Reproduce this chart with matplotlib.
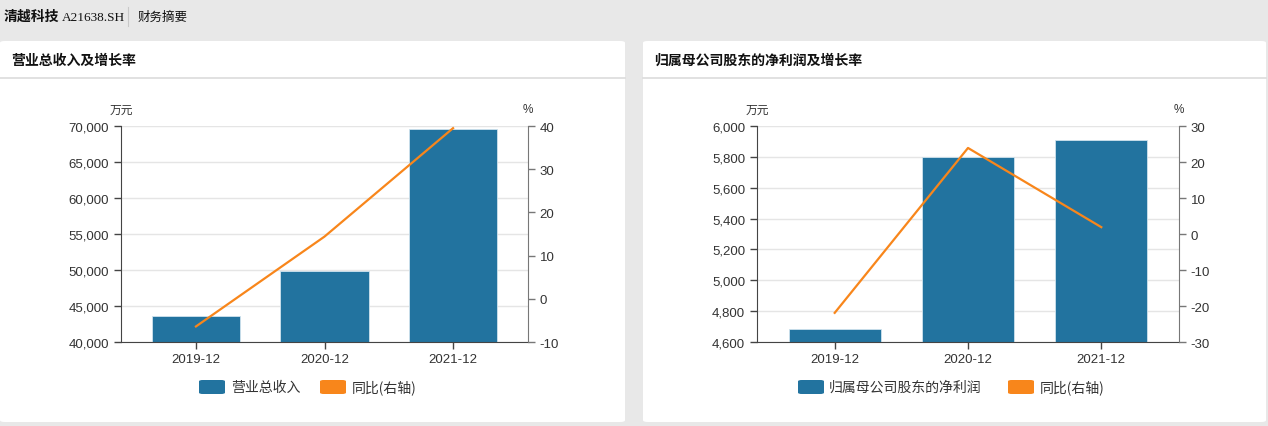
import matplotlib
matplotlib.use("Agg")
import matplotlib.pyplot as plt
from matplotlib.patches import FancyBboxPatch
from matplotlib.ticker import FuncFormatter, FixedLocator
from matplotlib.lines import Line2D

plt.rcParams['font.family'] = ['Liberation Sans', 'Noto Sans CJK SC', 'DejaVu Sans']

# ---------------- data ----------------
periods = ["2019-12", "2020-12", "2021-12"]
revenue = [43600, 49860, 69540]          # 万元
revenue_yoy = [-6.4, 14.4, 39.5]         # %
net_profit = [4682, 5801, 5911]          # 万元
net_profit_yoy = [-21.9, 23.9, 1.9]      # %

left_title = "营业总收入及增长率"
right_title = "归属母公司股东的净利润及增长率"
left_bar_name = "营业总收入"
right_bar_name = "归属母公司股东的净利润"
line_name = "同比(右轴)"
header_name = "清越科技"
header_code = "A21638.SH"
header_section = "财务摘要"

left_yticks = [40000, 45000, 50000, 55000, 60000, 65000, 70000]
left_y2ticks = [-10, 0, 10, 20, 30, 40]
right_yticks = [4600, 4800, 5000, 5200, 5400, 5600, 5800, 6000]
right_y2ticks = [-30, -20, -10, 0, 10, 20, 30]

# ---------------- style ----------------
W, H = 1268, 427
BLUE = '#22739f'
ORANGE = '#f8861b'
TXT = '#333333'
GRID = '#e5e5e5'
BG = '#e8e8e8'
CJK = ['Noto Sans CJK SC', 'DejaVu Sans']
NUM = ['Liberation Sans', 'Noto Sans CJK SC']

fig = plt.figure(figsize=(W / 100, H / 100), dpi=100)
fig.patch.set_facecolor(BG)


def fx(px):
    return px / W


def fy(py):
    return 1 - py / H


# panels
for x0, x1 in [(0, 625), (643, 1266)]:
    p = FancyBboxPatch((fx(x0), fy(423)), fx(x1 - x0), (423 - 42) / H,
                       boxstyle="round,pad=0,rounding_size=0.004",
                       transform=fig.transFigure, facecolor='white',
                       edgecolor='none', zorder=-10)
    fig.patches.append(p)
    fig.add_artist(Line2D([fx(x0), fx(x1)], [fy(79), fy(79)],
                          transform=fig.transFigure, color='#dcdcdc', lw=1.2,
                          zorder=-5))

# header
fig.text(fx(4), fy(17), header_name, fontsize=10, fontweight='bold',
         family=CJK, va='center', ha='left', color='#111111')
fig.text(fx(62), fy(18), header_code, fontsize=9.5, family=['Liberation Serif'],
         va='center', ha='left', color='#111111')
fig.add_artist(Line2D([fx(128), fx(128)], [fy(8), fy(27)],
                      transform=fig.transFigure, color='#c8c8c8', lw=0.8))
fig.text(fx(138), fy(17), header_section, fontsize=9, family=CJK,
         va='center', ha='left', color='#111111')

# panel titles
fig.text(fx(11), fy(61), left_title, fontsize=10, fontweight='bold',
         family=CJK, va='center', ha='left', color='#111111')
fig.text(fx(654), fy(61), right_title, fontsize=10, fontweight='bold',
         family=CJK, va='center', ha='left', color='#111111')


def make_chart(xl, xr, bars, yoy, yt, y2t, bar_name, legend_x):
    ax = fig.add_axes([fx(xl), fy(343), fx(xr - xl), 216 / H])
    ax.set_facecolor('none')
    x = list(range(len(periods)))
    ax.bar(x, bars, width=0.69, color=BLUE, edgecolor='#cfe3ee',
           linewidth=0.6, zorder=2)
    ax.set_xlim(-0.583, len(periods) - 1 + 0.583)
    ax.set_ylim(yt[0], yt[-1])
    ax.yaxis.set_major_locator(FixedLocator(yt))
    ax.yaxis.set_major_formatter(FuncFormatter(lambda v, p: f"{int(v):,}"))
    ax.set_xticks(x)
    ax.set_xticklabels(periods)
    ax.grid(axis='y', color=GRID, lw=1, zorder=0)
    ax.set_axisbelow(True)
    for s in ['top', 'right']:
        ax.spines[s].set_visible(False)
    ax.spines['left'].set_color('#444444')
    ax.spines['bottom'].set_color('#444444')
    ax.tick_params(axis='both', colors='#444444', labelcolor=TXT,
                   labelsize=9.5, length=5, width=1)
    ax.tick_params(axis='x', pad=3)
    for lab in ax.get_xticklabels() + ax.get_yticklabels():
        lab.set_family(NUM)

    ax2 = ax.twinx()
    ax2.set_facecolor('none')
    ax2.plot(x, yoy, color=ORANGE, lw=1.6, zorder=3)
    ax2.set_ylim(y2t[0], y2t[-1])
    ax2.yaxis.set_major_locator(FixedLocator(y2t))
    ax2.yaxis.set_major_formatter(FuncFormatter(lambda v, p: f"{int(v)}"))
    for s in ['top', 'left', 'bottom']:
        ax2.spines[s].set_visible(False)
    ax2.spines['right'].set_color('#777777')
    ax2.tick_params(axis='y', colors='#777777', labelcolor=TXT,
                    labelsize=9.5, length=5, width=1)
    for lab in ax2.get_yticklabels():
        lab.set_family(NUM)

    fig.text(fx(xl), fy(110), "万元", fontsize=8.5, family=CJK,
             ha='center', va='center', color=TXT)
    fig.text(fx(xr), fy(110), "%", fontsize=8.5, family=NUM,
             ha='center', va='center', color=TXT)

    # legend
    lx1, tx1, lx2, tx2 = legend_x
    for px, col, name, tx in [(lx1, BLUE, bar_name, tx1),
                              (lx2, ORANGE, line_name, tx2)]:
        r = FancyBboxPatch((fx(px), fy(395)), fx(26), 14 / H,
                           boxstyle="round,pad=0,rounding_size=0.003",
                           transform=fig.transFigure, facecolor=col,
                           edgecolor='none')
        fig.patches.append(r)
        fig.text(fx(tx), fy(388), name, fontsize=10, family=CJK,
                 ha='left', va='center', color=TXT)
    return ax, ax2


make_chart(121, 528, revenue, revenue_yoy, left_yticks, left_y2ticks,
           left_bar_name, (199, 231, 320, 352))
make_chart(757, 1179, net_profit, net_profit_yoy, right_yticks, right_y2ticks,
           right_bar_name, (798, 829, 1008, 1040))

fig.savefig("out.png", dpi=100, facecolor=fig.get_facecolor())
